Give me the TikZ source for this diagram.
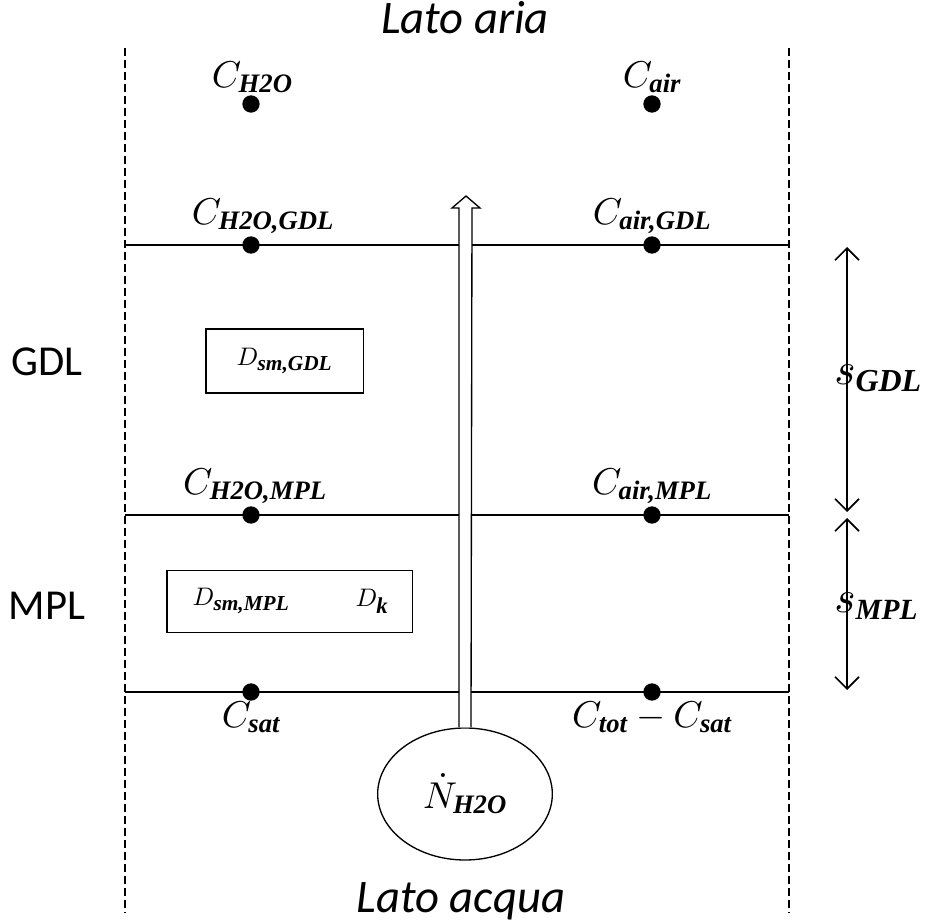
\documentclass[tikz,border=0pt]{standalone}
\usepackage{amsmath}
\usepackage{fontspec}
\setmainfont{Carlito}
\DeclareFontShape{OML}{cmm}{m}{it}{<->cmmi10}{}
\DeclareFontShape{OMS}{cmsy}{m}{n}{<->cmsy10}{}
\DeclareFontShape{OT1}{cmr}{m}{n}{<->cmr10}{}
\newfontfamily\subfont{Liberation Serif}
\newcommand{\ix}[2][20]{\hbox{\fontsize{#1}{#1}\selectfont\subfont\bfseries\itshape #2}}
\usepackage{tikz}
\usetikzlibrary{shapes,calc,arrows.meta}

\begin{document}
\begin{tikzpicture}[x=0.75pt,y=-0.75pt]
    \tikzset{dot/.style={circle,fill,inner sep=0pt,minimum size=13pt},
             lbl/.style={font=\fontsize{28}{32}\selectfont},
             sml/.style={font=\fontsize{19}{22}\selectfont},
             big/.style={font=\fontsize{34}{40}\selectfont},
             txt/.style={font=\fontsize{32}{36}\selectfont},
             boxed/.style={draw,line width=1pt,inner sep=0pt},
             dim/.style={line width=1.3pt,{Straight Barb[length=9pt,width=18pt]}-{Straight Barb[length=9pt,width=18pt]}}};
    \useasboundingbox (0,0) rectangle (936,923);
	% sides
	\node (top) at (465,18) [txt,font=\fontsize{35}{40}\selectfont]{\itshape Lato aria};
	\node (bot) at (461,901) [txt,font=\fontsize{35}{40}\selectfont]{\itshape Lato acqua};
	\coordinate (L1) at (125,48); \coordinate (L2) at (125,913);
	\coordinate (R1) at (789,48); \coordinate (R2) at (789,913);
	\draw[dash pattern=on 6pt off 3pt,line width=0.8pt] (L1) -- (L2);
	\draw[dash pattern=on 6pt off 3pt,line width=0.8pt] (R1) -- (R2);
	% layers
	\foreach \y/\n in {245/g,515/m,692/s}{
	    \coordinate (a\n) at (125,\y);
	    \coordinate (b\n) at (789,\y);
	    \draw[line width=1pt] (a\n) -- (b\n);
	}
	\node (GDL) at (47,362) [txt]{GDL};
	\node (MPL) at (47,606) [txt]{MPL};
	% concentrations
	\node (cw) at (251,104) [dot,label={[lbl,label distance=-2pt,xshift=1pt]above:$C_{\ix{H2O}}$}]{};
	\node (ca) at (652,104) [dot,label={[lbl,label distance=-2pt]above:$C_{\ix{air}}$}]{};
	\node (cwg) at (251,245) [dot,label={[lbl,label distance=-2pt,xshift=9pt]above:$C_{\ix{H2O,GDL}}$}]{};
	\node (cag) at (652,245) [dot,label={[lbl,label distance=-2pt]above:$C_{\ix{air,GDL}}$}]{};
	\node (cwm) at (251,515) [dot,label={[lbl,label distance=-2pt,xshift=3pt]above:$C_{\ix{H2O,MPL}}$}]{};
	\node (cam) at (652,515) [dot,label={[lbl,label distance=-2pt]above:$C_{\ix{air,MPL}}$}]{};
	\node (cs) at (251,692) [dot,label={[lbl,label distance=-3pt]below:$C_{\ix{sat}}$}]{};
	\node (ct) at (652,692) [dot,label={[lbl,label distance=-3pt]below:$C_{\ix{tot}}-C_{\ix{sat}}$}]{};
	% diffusivities
	\node (DG) at (284.5,361) [boxed,minimum width=118pt,minimum height=48pt,sml]{$D_{\ix[16]{sm,GDL}}$};
	\node (DM) at (289.5,601.5) [boxed,minimum width=184pt,minimum height=46pt]{};
	\node (Dsm) at (241,601) [sml]{$D_{\ix[16]{sm,MPL}}$};
	\node (Dk) at (372,601) [sml]{$D_{\ix[17]{k}}$};
	% flux
	\node (N) at (465,794) [ellipse,draw,line width=1pt,minimum width=131pt,minimum height=99pt,lbl]{$\dot{N}_{\ix{H2O}}$};
	\draw[line width=1pt,fill=white] ($(N.north)+(-6,0)$) -- (459,208) -- (452,208) -- (466,196)
	    -- (480,208) -- (472,208) -- ($(N.north)+(6,0)$);
	% thicknesses
	\coordinate (sg1) at (847,247); \coordinate (sg2) at (847,512);
	\coordinate (sm1) at (847,518); \coordinate (sm2) at (847,690);
	\draw[dim] (sg1) -- (sg2);
	\draw[dim] (sm1) -- (sm2);
	\node (sG) at (834,378) [big,anchor=west,inner sep=0pt]{$s_{\ix[24]{GDL}}$};
	\node (sM) at (834,606) [big,anchor=west,inner sep=0pt]{$s_{\ix[22]{MPL}}$};
\end{tikzpicture}
\end{document}
